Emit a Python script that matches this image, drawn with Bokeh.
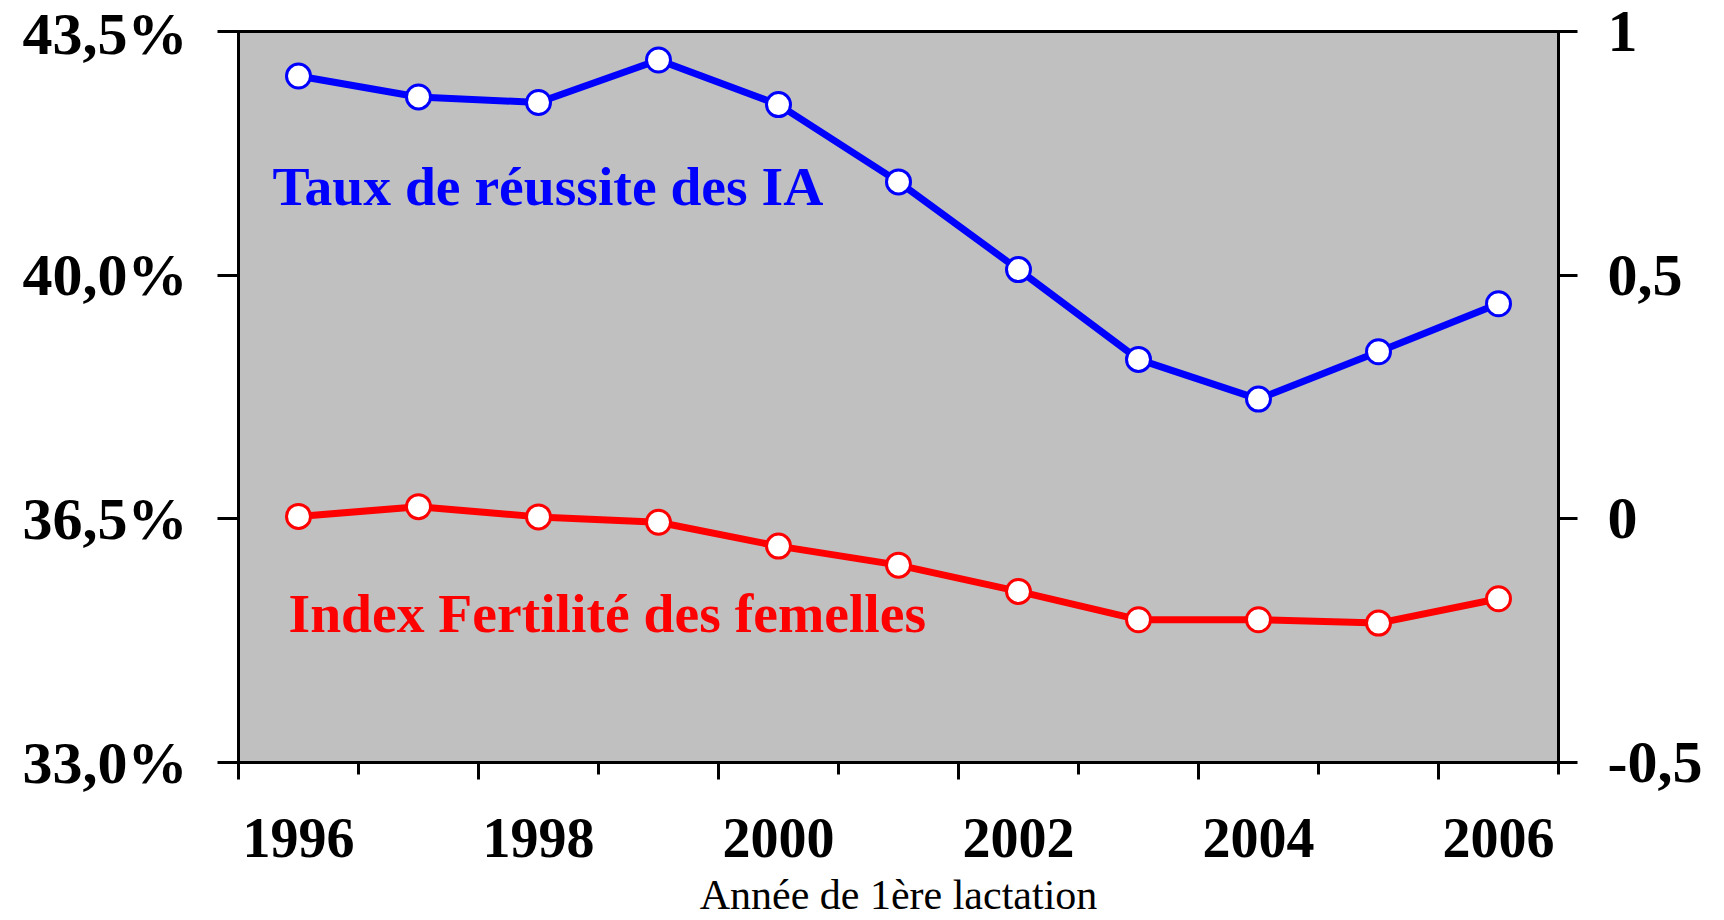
from bokeh.plotting import figure
from bokeh.models import Range1d, LinearAxis, FixedTicker, Label
from bokeh.embed import file_html
from bokeh.resources import INLINE

# ---- data ----
years = [1996, 1997, 1998, 1999, 2000, 2001, 2002, 2003, 2004, 2005, 2006]
taux_reussite = [42.86, 42.56, 42.48, 43.09, 42.45, 41.34, 40.08, 38.79, 38.22, 38.90, 39.59]
index_fertilite = [0.005, 0.025, 0.004, -0.007, -0.056, -0.095, -0.149, -0.207, -0.207, -0.214, -0.164]

left_ticks = [33.0, 36.5, 40.0, 43.5]
left_labels = ["33,0%", "36,5%", "40,0%", "43,5%"]
right_ticks = [-0.5, 0.0, 0.5, 1.0]
right_labels = ["-0,5", "0", "0,5", "1"]
x_label_years = years[::2]

series1_name = "Taux de réussite des IA"
series2_name = "Index Fertilité des femelles"
x_title = "Année de 1ère lactation"

SERIF = "Liberation Serif"
BLUE = "#0000FF"
RED = "#FF0000"

boundaries = [y - 0.5 for y in years] + [years[-1] + 0.5]

p = figure(width=1724, height=920, output_backend="svg", toolbar_location=None,
           x_axis_type=None, y_axis_type=None,
           x_range=Range1d(boundaries[0], boundaries[-1]),
           y_range=Range1d(left_ticks[0], left_ticks[-1]),
           min_border_left=238, min_border_right=166,
           min_border_top=31, min_border_bottom=157)
p.extra_y_ranges = {"idx": Range1d(right_ticks[0], right_ticks[-1])}

p.background_fill_color = "#C0C0C0"
p.border_fill_color = "white"
p.outline_line_color = "black"
p.outline_line_width = 3

common = dict(axis_line_color="black", axis_line_width=3,
              major_tick_line_color="black", major_tick_line_width=3,
              major_tick_in=0, minor_tick_line_color=None,
              major_label_text_font=SERIF, major_label_text_font_style="bold",
              major_label_text_font_size="60px", major_label_text_color="black",
              major_label_standoff=30)

yl = LinearAxis(ticker=FixedTicker(ticks=left_ticks, minor_ticks=[]),
                major_label_overrides=dict(zip(left_ticks, left_labels)),
                major_tick_out=21, **common)
p.add_layout(yl, "left")

yr = LinearAxis(y_range_name="idx",
                ticker=FixedTicker(ticks=right_ticks, minor_ticks=[]),
                major_label_overrides=dict(zip(right_ticks, right_labels)),
                major_tick_out=19, **common)
p.add_layout(yr, "right")

# tick marks at category boundaries (long / short alternating)
long_ticks = boundaries[::2]
short_ticks = boundaries[1::2]
ax_ticks = LinearAxis(ticker=FixedTicker(ticks=long_ticks, minor_ticks=short_ticks),
                      axis_line_color="black", axis_line_width=3,
                      major_tick_line_color="black", major_tick_line_width=3,
                      minor_tick_line_color="black", minor_tick_line_width=3,
                      major_tick_in=0, minor_tick_in=0,
                      major_tick_out=17, minor_tick_out=12,
                      major_label_overrides={t: "" for t in long_ticks},
                      major_label_text_font_size="1px", major_label_standoff=0)
p.add_layout(ax_ticks, "below")

ax_labels = LinearAxis(ticker=FixedTicker(ticks=x_label_years, minor_ticks=[]),
                       axis_line_color=None, major_tick_line_color=None,
                       major_tick_in=0, major_tick_out=0, minor_tick_line_color=None,
                       major_label_text_font=SERIF, major_label_text_font_style="bold",
                       major_label_text_font_size="56px", major_label_text_color="black",
                       major_label_standoff=39,
                       axis_label=x_title, axis_label_text_font=SERIF,
                       axis_label_text_font_style="normal", axis_label_text_font_size="42px",
                       axis_label_text_color="black", axis_label_standoff=12)
p.add_layout(ax_labels, "below")

# series
p.line(years, taux_reussite, line_color=BLUE, line_width=7)
p.scatter(years, taux_reussite, marker="circle", size=24, fill_color="white",
          line_color=BLUE, line_width=3)

p.line(years, index_fertilite, line_color=RED, line_width=7, y_range_name="idx")
p.scatter(years, index_fertilite, marker="circle", size=24, fill_color="white",
          line_color=RED, line_width=3, y_range_name="idx")

# annotations
p.add_layout(Label(x=34, y=577, x_units="screen", y_units="screen", text=series1_name,
                   text_font=SERIF, text_font_style="bold", text_font_size="55.6px",
                   text_color=BLUE, text_baseline="alphabetic", text_align="left"))
p.add_layout(Label(x=50, y=150, x_units="screen", y_units="screen", text=series2_name,
                   text_font=SERIF, text_font_style="bold", text_font_size="55.6px",
                   text_color=RED, text_baseline="alphabetic", text_align="left"))

open("out.html", "w").write(file_html(p, INLINE))
